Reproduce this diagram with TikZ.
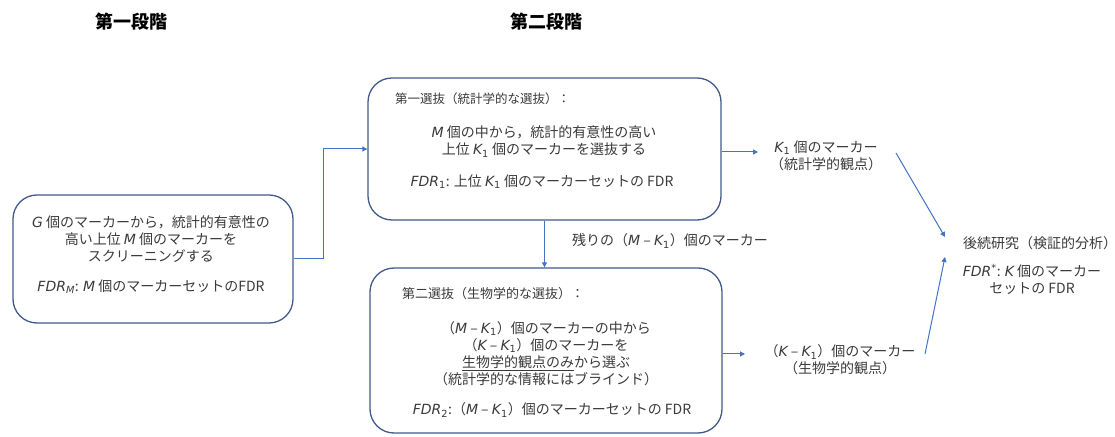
\documentclass[tikz,border=0pt]{standalone}
\usepackage{fontspec}
\setmainfont{Noto Sans CJK JP}
\newfontfamily\latf{DejaVu Sans}
\usetikzlibrary{arrows.meta}
\definecolor{txt}{HTML}{3A3A3A}
\definecolor{bord}{HTML}{42598A}
\definecolor{arr}{HTML}{4472C4}
\newcommand\iv[1]{{\latf\itshape #1}}
\newcommand\sbs[1]{\textsubscript{\latf #1}}
\newcommand\sps[1]{\textsuperscript{\latf #1}}
\begin{document}
\begin{tikzpicture}[x=1bp,y=-1bp,
  font=\fontsize{14bp}{17bp}\selectfont, text=txt,
  box/.style={draw=bord, line width=1.3bp, rounded corners=24bp},
  conn/.style={draw=arr, line width=1bp, -{Triangle[length=5bp,width=5bp]}},
  lbl/.style={align=center, inner sep=0pt},
  btitle/.style={anchor=west, inner sep=0pt},
  ttl/.style={inner sep=0pt, text=black, font=\fontsize{18bp}{20bp}\selectfont\bfseries}]
\useasboundingbox (0,0) rectangle (1115,437);

% stage titles
\node[ttl] (T1) at (131,22) {第一段階};
\node[ttl] (T2) at (546,22) {第二段階};

% boxes
\node[box, minimum width=280bp, minimum height=128bp] (L) at (153,259) {};
\node[box, minimum width=353bp, minimum height=142bp] (B1) at (544.5,149) {};
\node[box, minimum width=352bp, minimum height=165bp] (B2) at (546,350.5) {};

% left box text
\node[lbl] (Lt) at (151,239) {\iv{G} 個のマーカーから，統計的有意性の\\高い上位 \iv{M} 個のマーカーを\\スクリーニングする};
\node[lbl] (Lf) at (151,287) {\iv{FDR}\sbs{\itshape M}: \iv{M} 個のマーカーセットのFDR};

% box 1 text
\node[btitle, font=\fontsize{12.5bp}{15bp}\selectfont] (B1t) at (395,99) {第一選抜（統計学的な選抜）：};
\node[lbl] (B1m) at (544,141.5) {\iv{M} 個の中から，統計的有意性の高い\\上位 \iv{K}\sbs{1} 個のマーカーを選抜する};
\node[lbl] (B1f) at (542,182) {\iv{FDR}\sbs{1}: 上位 \iv{K}\sbs{1} 個のマーカーセットの FDR};

% box 2 text
\node[btitle, font=\fontsize{13bp}{15bp}\selectfont] (B2t) at (402,294) {第二選抜（生物学的な選抜）：};
\node[lbl] (B2m) at (546,353.5) {（\iv{M} – \iv{K}\sbs{1}）個のマーカーの中から\\（\iv{K} – \iv{K}\sbs{1}）個のマーカーを\\\underline{生物学的観点のみ}から選ぶ\\（統計学的な情報にはブラインド）};
\node[lbl] (B2f) at (552,410) {\iv{FDR}\sbs{2}:（\iv{M} – \iv{K}\sbs{1}）個のマーカーセットの FDR};

% labels outside
\node[anchor=west, inner sep=0pt] (R) at (572,241) {残りの（\iv{M} – \iv{K}\sbs{1}）個のマーカー};
\node[lbl] (K1) at (826,156) {\iv{K}\sbs{1} 個のマーカー\\（統計学的観点）};
\node[lbl] (KK) at (840,360) {（\iv{K} – \iv{K}\sbs{1}）個のマーカー\\（生物学的観点）};
\node[anchor=west, inner sep=0pt] (F) at (963,243) {後続研究（検証的分析）};
\node[lbl] (Ff) at (1032,279) {\iv{FDR}\sps{*}: \iv{K} 個のマーカー\\セットの FDR};

% connectors
\coordinate (c1) at (896,153);
\coordinate (c2) at (945,237);
\coordinate (c3) at (925,354);
\coordinate (c4) at (945,257);
\draw[conn] (L.east) -- ++(30,0) |- (B1.west);
\draw[conn] (B1.south) -- (B1.south |- B2.north);
\draw[conn] (B1.east |- 0,152) -- (758,152);
\draw[conn] (B2.east |- 0,354) -- (745,354);
\draw[conn] (c1) -- (c2);
\draw[conn] (c3) -- (c4);
\end{tikzpicture}
\end{document}
